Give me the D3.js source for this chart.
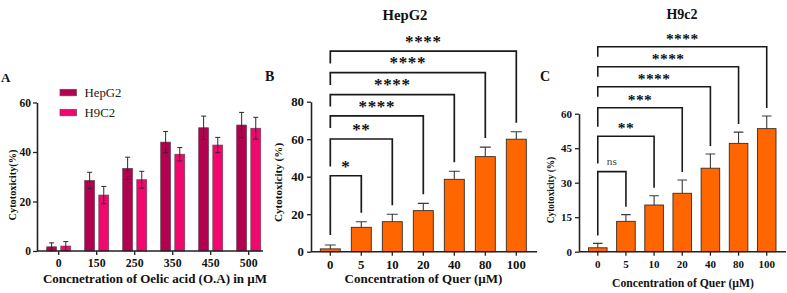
<!DOCTYPE html>
<html><head><meta charset="utf-8">
<script src="https://cdn.jsdelivr.net/npm/d3@7"></script>
<style>
html,body{margin:0;padding:0;background:#fff;}
svg text{font-family:"Liberation Serif","Times New Roman",serif;}
</style></head>
<body><svg id="chart" width="787" height="293"></svg>
<script>
// ---------- Data ----------
const oaCategories = ["0","150","250","350","450","500"];
const oaSeries = ["HepG2","H9C2"];
const oaHepG2 = [1.7, 28.5, 33.4, 44.0, 49.8, 50.9];
const oaHepG2Err = [1.6, 3.3, 4.5, 4.3, 4.7, 5.1];
const oaH9C2 = [2.0, 22.6, 28.8, 39.1, 42.8, 49.6];
const oaH9C2Err = [1.8, 3.5, 3.4, 2.7, 3.1, 4.4];
const oaTicks = [0, 20, 40, 60];

const querCategories = ["0","5","10","20","40","80","100"];
const querHepG2 = [1.5, 13.0, 16.0, 21.9, 38.6, 50.7, 60.0];
const querHepG2Err = [2.1, 3.0, 4.0, 3.9, 4.3, 5.1, 4.0];
const querH9c2 = [1.7, 13.2, 20.3, 25.4, 36.3, 47.1, 53.5];
const querH9c2Err = [1.9, 2.9, 4.0, 5.8, 6.2, 4.9, 5.5];
const hepTicks = [0, 20, 40, 60, 80];
const h9Ticks = [0, 15, 30, 45, 60];

const sigHepG2 = ["*","**","****","****","****","****"];
const sigH9c2 = ["ns","**","***","****","****","****"];
// bracket heights / left-leg ends in data units of each panel's y scale
const bracketLevelB = [40.5, 60.1, 72.4, 83.8, 95.5, 107.0];
const bracketLeftEndB = [8.9, 45.5, 66.0, 77.4, 88.9, 100.4];
const bracketLevelC = [34.8, 50.2, 62.6, 71.7, 80.4, 89.1];
const bracketLeftEndC = [7.0, 38.4, 54.3, 67.4, 76.1, 84.8];

// ---------- Styles ----------
const colHep = "#b3004f", colH9 = "#f2076f", colOrange = "#ff6600";
const svg = d3.select("#chart");
const FONT = '"Liberation Serif","Times New Roman",serif';

function styleAxis(g, fs) {
  g.selectAll("text").attr("font-family", FONT).attr("font-weight", "bold")
    .attr("font-size", fs).attr("fill", "#111");
  g.selectAll("line").attr("stroke", "#222").attr("stroke-width", 1.3);
  g.selectAll(".domain").attr("stroke", "#222").attr("stroke-width", 1.6);
}

// ================= Panel A =================
(function() {
  const yA = d3.scaleLinear().domain([0, 60]).range([251, 102.5]);
  const x0 = d3.scaleBand().domain(oaCategories).range([39.7, 267.7])
    .paddingInner(0.368).paddingOuter(0.184);
  const x1 = d3.scaleBand().domain(oaSeries).range([0, x0.bandwidth()]).paddingInner(0.3);
  const vals = {HepG2: oaHepG2, H9C2: oaH9C2};
  const errs = {HepG2: oaHepG2Err, H9C2: oaH9C2Err};
  const cols = {HepG2: colHep, H9C2: colH9};

  const g = svg.append("g");
  oaSeries.forEach(s => {
    const bars = g.append("g");
    oaCategories.forEach((c, i) => {
      const bx = x0(c) + x1(s), bw = x1.bandwidth();
      bars.append("rect").attr("x", bx).attr("y", yA(vals[s][i]))
        .attr("width", bw).attr("height", yA(0) - yA(vals[s][i]))
        .attr("fill", cols[s]).attr("stroke", "#6a4050").attr("stroke-width", 0.7);
      const cx = bx + bw / 2, hi = yA(vals[s][i] + errs[s][i]), lo = yA(vals[s][i] - errs[s][i]);
      bars.append("path").attr("d", `M${cx},${hi}V${lo}M${cx-2.5},${hi}H${cx+2.5}M${cx-2.5},${lo}H${cx+2.5}`)
        .attr("stroke", "#2a2a2a").attr("stroke-width", 1).attr("fill", "none");
    });
  });

  const ax = g.append("g").attr("transform", `translate(0,${yA(0)})`)
    .call(d3.axisBottom(x0).tickSize(4).tickSizeOuter(0).tickPadding(4));
  ax.select(".domain").remove();
  styleAxis(ax, 11.8);
  g.append("line").attr("x1", 37).attr("x2", 263).attr("y1", yA(0)).attr("y2", yA(0))
    .attr("stroke", "#222").attr("stroke-width", 1.6);
  const ay = g.append("g").attr("transform", "translate(37,0)")
    .call(d3.axisLeft(yA).tickValues(oaTicks).tickSize(4).tickSizeOuter(0).tickPadding(2));
  styleAxis(ay, 11.5);

  g.append("text").attr("x", 155).attr("y", 282.5).attr("text-anchor", "middle")
    .attr("font-weight", "bold").attr("font-size", 13).attr("fill", "#111")
    .attr("textLength", 224).attr("lengthAdjust", "spacing")
    .text("Concnetration of Oelic acid (O.A) in µM");
  g.append("text").attr("transform", "translate(15.5,185) rotate(-90)").attr("text-anchor", "middle")
    .attr("font-weight", "bold").attr("font-size", 10.3).attr("fill", "#111")
    .text("Cytotoxicity(%)");
  g.append("text").attr("x", 1).attr("y", 81.7).attr("font-weight", "bold")
    .attr("font-size", 13).attr("fill", "#111").text("A");

  // legend
  oaSeries.forEach((s, i) => {
    const ly = 89.3 + i * 20;
    g.append("rect").attr("x", 60).attr("y", ly).attr("width", 16.5).attr("height", 6.5)
      .attr("fill", cols[s]).attr("stroke", "#6a4050").attr("stroke-width", 0.7);
    g.append("text").attr("x", 84.5).attr("y", ly + 7.6).attr("font-size", 12.8)
      .attr("fill", "#222").text(s);
  });
})();

// ================= Panels B and C =================
function quercetinPanel(opt) {
  const y = d3.scaleLinear().domain(opt.domain).range([251.7, opt.yTop]);
  const x = d3.scaleBand().domain(querCategories).range(opt.xRange)
    .paddingInner(opt.pad).paddingOuter(opt.pad / 2);
  const g = svg.append("g");

  opt.values.forEach((v, i) => {
    const c = querCategories[i];
    const bx = x(c), bw = x.bandwidth(), cx = bx + bw / 2;
    const hi = y(v + opt.errs[i]);
    g.append("path").attr("d", `M${cx},${y(v)}V${hi}M${cx - opt.cap},${hi}H${cx + opt.cap}`)
      .attr("stroke", "#3a3a3a").attr("stroke-width", 1.1).attr("fill", "none");
    g.append("rect").attr("x", bx).attr("y", y(v)).attr("width", bw).attr("height", y(0) - y(v))
      .attr("fill", colOrange).attr("stroke", "#3a2a20").attr("stroke-width", 0.9);
  });

  const ax = g.append("g").attr("transform", `translate(0,${y(0)})`)
    .call(d3.axisBottom(x).tickSize(4).tickSizeOuter(0).tickPadding(opt.xTickPad));
  ax.select(".domain").remove();
  styleAxis(ax, opt.tickFs);
  g.append("line").attr("x1", opt.axisX).attr("x2", opt.axisEnd).attr("y1", y(0)).attr("y2", y(0))
    .attr("stroke", "#222").attr("stroke-width", 1.6);
  const ay = g.append("g").attr("transform", `translate(${opt.axisX},0)`)
    .call(d3.axisLeft(y).tickValues(opt.ticks).tickSize(4).tickSizeOuter(0).tickPadding(3));
  styleAxis(ay, opt.ytickFs);

  // significance brackets
  const x0c = x(querCategories[0]) + x.bandwidth() / 2;
  opt.sig.forEach((s, k) => {
    const j = k + 1;
    const xr = x(querCategories[j]) + x.bandwidth() / 2;
    const ly = y(opt.levels[k]);
    const lEnd = y(opt.leftEnds[k]);
    const rEnd = y(opt.values[j] + opt.errs[j]) - opt.gap;
    g.append("path").attr("d", `M${x0c},${lEnd}V${ly}H${xr}V${rEnd}`)
      .attr("fill", "none").attr("stroke", "#1a1a1a").attr("stroke-width", opt.bw);
    const isNs = s === "ns";
    g.append("text").attr("x", (x0c + xr) / 2).attr("y", ly - (isNs ? opt.nsOff : opt.starOff))
      .attr("text-anchor", "middle").attr("font-weight", isNs ? "normal" : "bold")
      .attr("font-size", isNs ? opt.nsFs : opt.starFs).attr("fill", isNs ? "#444" : "#111")
      .attr("letter-spacing", isNs ? 0 : opt.starLs)
      .text(s);
  });

  g.append("text").attr("x", opt.titleX).attr("y", opt.titleY).attr("text-anchor", "middle")
    .attr("font-weight", "bold").attr("font-size", opt.titleFs).attr("fill", "#111").text(opt.title);
  g.append("text").attr("x", opt.letterX).attr("y", 81.3).attr("font-weight", "bold")
    .attr("font-size", 14).attr("fill", "#111").text(opt.letter);
  g.append("text").attr("x", opt.xlabX).attr("y", opt.xlabY).attr("text-anchor", "middle")
    .attr("font-weight", "bold").attr("font-size", opt.xlabFs).attr("fill", "#111")
    .text("Concentration of Quer (µM)");
  g.append("text").attr("transform", `translate(${opt.ylabX},${opt.ylabY}) rotate(-90)`)
    .attr("text-anchor", "middle").attr("font-weight", "bold").attr("font-size", opt.ylabFs)
    .attr("fill", "#111").text("Cytotoxicity (%)");
}

quercetinPanel({
  domain: [0, 80], yTop: 101.7, ticks: hepTicks,
  xRange: [314.8, 531.8], pad: 0.355, axisX: 311, axisEnd: 537,
  values: querHepG2, errs: querHepG2Err, cap: 5.5,
  sig: sigHepG2, levels: bracketLevelB, leftEnds: bracketLeftEndB, gap: 9, bw: 1.7,
  starFs: 17, starOff: 4.2, starLs: 0.6, nsFs: 11, nsOff: 7,
  tickFs: 12.8, ytickFs: 12.8, xTickPad: 4,
  title: "HepG2", titleX: 405, titleY: 20, titleFs: 14.7,
  letter: "B", letterX: 265, xlabX: 423.5, xlabY: 283, xlabFs: 13,
  ylabX: 282, ylabY: 182.5, ylabFs: 11.1
});

quercetinPanel({
  domain: [0, 60], yTop: 113.7, ticks: h9Ticks,
  xRange: [583.7, 780.8], pad: 0.34, axisX: 579, axisEnd: 786,
  values: querH9c2, errs: querH9c2Err, cap: 4.8,
  sig: sigH9c2, levels: bracketLevelC, leftEnds: bracketLeftEndC, gap: 8, bw: 1.6,
  starFs: 15.5, starOff: 2.8, starLs: 0.4, nsFs: 11.3, nsOff: 7,
  tickFs: 11, ytickFs: 11, xTickPad: 5,
  title: "H9c2", titleX: 682, titleY: 18.5, titleFs: 14,
  letter: "C", letterX: 540, xlabX: 683, xlabY: 286.5, xlabFs: 11.7,
  ylabX: 553.5, ylabY: 190, ylabFs: 9.3
});
</script></body></html>
